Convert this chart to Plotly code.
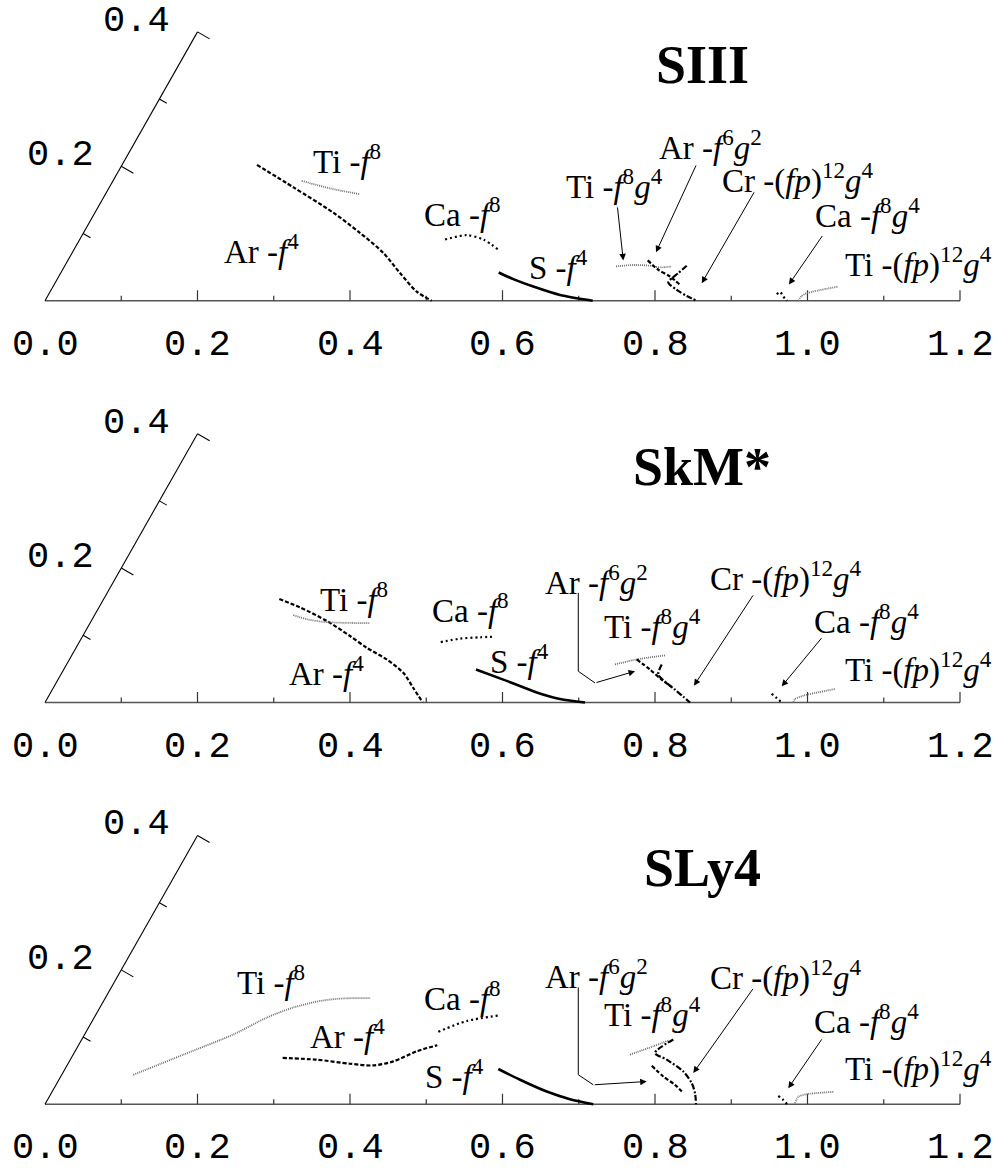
import plotly.graph_objects as go
import math

# ---------------- data (horizontal / vertical coordinates in axis units) ----------------
panels = ["SIII", "SkM*", "SLy4"]

# SIII
SIII_S_f4_x = [0.595, 0.6142, 0.6404, 0.6754, 0.7183]
SIII_S_f4_y = [0.0364, 0.0278, 0.0182, 0.0074, 0.0]
SIII_Ar_f4_x = [0.278, 0.326, 0.378, 0.413, 0.4437, 0.4656, 0.4875, 0.507]
SIII_Ar_f4_y = [0.175, 0.146, 0.1135, 0.0875, 0.0616, 0.0356, 0.0117, 0.0]
SIII_Ti_f8_x = [0.3367, 0.3738, 0.413]
SIII_Ti_f8_y = [0.1545, 0.1447, 0.1373]
SIII_Ca_f8_x = [0.5246, 0.553, 0.5748, 0.5958]
SIII_Ca_f8_y = [0.0788, 0.0844, 0.0788, 0.0649]
SIII_Ti_f8g4_x = [0.7489, 0.7716, 0.7934, 0.8066, 0.8219]
SIII_Ti_f8g4_y = [0.0442, 0.046, 0.0451, 0.0429, 0.0442]
SIII_Ar_f6g2_x = [0.7904, 0.8043, 0.8197, 0.8328]
SIII_Ar_f6g2_y = [0.052, 0.0399, 0.0312, 0.0204]
SIII_Cr_fp12g4_x = [0.8416, 0.8306, 0.8197, 0.8174, 0.8285, 0.8416, 0.8547]
SIII_Cr_fp12g4_y = [0.0451, 0.0356, 0.0269, 0.0234, 0.0139, 0.0061, 0.0]
SIII_Ca_f8g4_x = [0.9597, 0.964, 0.9683, 0.9735]
SIII_Ca_f8g4_y = [0.0083, 0.0113, 0.0052, 0.0]
SIII_Ti_fp12g4_x = [0.988, 0.9924, 0.999, 1.0404]
SIII_Ti_fp12g4_y = [0.0, 0.006, 0.0096, 0.0182]

# SkM*
SkM_Ar_f4_x = [0.3073, 0.3344, 0.3694, 0.4, 0.4219, 0.4481, 0.4699, 0.483, 0.4954]
SkM_Ar_f4_y = [0.1334, 0.1226, 0.1052, 0.0857, 0.0706, 0.0555, 0.0382, 0.0187, 0.0]
SkM_Ti_f8_x = [0.3256, 0.3432, 0.365, 0.3957, 0.4253]
SkM_Ti_f8_y = [0.1126, 0.1074, 0.1039, 0.1026, 0.1022]
SkM_Ca_f8_x = [0.519, 0.5443, 0.5705, 0.5902]
SkM_Ca_f8_y = [0.0779, 0.0823, 0.084, 0.0849]
SkM_S_f4_x = [0.5652, 0.6011, 0.6449, 0.6754, 0.7082]
SkM_S_f4_y = [0.0425, 0.0295, 0.013, 0.0044, 0.0]
SkM_Ti_f8g4_x = [0.7475, 0.776, 0.8131]
SkM_Ti_f8g4_y = [0.049, 0.0555, 0.0607]
SkM_Ar_f6g2_x = [0.776, 0.7934, 0.8088, 0.8219]
SkM_Ar_f6g2_y = [0.0555, 0.0425, 0.0295, 0.02]
SkM_Cr_fp12g4_x = [0.8088, 0.8043, 0.8131, 0.8262, 0.8371, 0.8459]
SkM_Cr_fp12g4_y = [0.049, 0.036, 0.0269, 0.0165, 0.0074, 0.0]
SkM_Ca_f8g4_x = [0.953, 0.9597, 0.9662]
SkM_Ca_f8g4_y = [0.0113, 0.0057, 0.0]
SkM_Ti_fp12g4_x = [0.9814, 0.9836, 0.9945, 1.036]
SkM_Ti_fp12g4_y = [0.0, 0.0044, 0.0087, 0.0174]

# SLy4
SLy_Ti_f8_x = [0.1158, 0.1814, 0.247, 0.2908, 0.3256, 0.3607, 0.3912, 0.4272]
SLy_Ti_f8_y = [0.038, 0.064, 0.09, 0.1117, 0.1247, 0.1332, 0.1364, 0.1368]
SLy_Ar_f4_x = [0.3117, 0.3563, 0.4, 0.4306, 0.4568, 0.4875, 0.5145]
SLy_Ar_f4_y = [0.0597, 0.0575, 0.0523, 0.0501, 0.0553, 0.0683, 0.0761]
SLy_Ca_f8_x = [0.5158, 0.553, 0.5967]
SLy_Ca_f8_y = [0.0935, 0.1073, 0.1147]
SLy_S_f4_x = [0.5945, 0.623, 0.658, 0.6885, 0.7191]
SLy_S_f4_y = [0.0455, 0.0316, 0.0164, 0.0065, 0.0]
SLy_Ti_f8g4_x = [0.7672, 0.7978, 0.8175]
SLy_Ti_f8g4_y = [0.064, 0.0748, 0.0822]
SLy_Ar_f6g2_x = [0.7957, 0.8109, 0.8262, 0.8371]
SLy_Ar_f6g2_y = [0.0497, 0.0358, 0.0251, 0.0143]
SLy_Cr_fp12g4_x = [0.824, 0.80, 0.8154, 0.8371, 0.8481, 0.8525, 0.8538]
SLy_Cr_fp12g4_y = [0.0835, 0.0662, 0.0575, 0.0423, 0.0273, 0.0143, 0.0]
SLy_Ca_f8g4_x = [0.9617, 0.9683, 0.9735]
SLy_Ca_f8g4_y = [0.0108, 0.0056, 0.0]
SLy_Ti_fp12g4_x = [0.9836, 0.988, 0.999, 1.0338]
SLy_Ti_fp12g4_y = [0.0013, 0.0099, 0.013, 0.016]

x_ticks = [0.1, 0.2, 0.3, 0.4, 0.5, 0.6, 0.7, 0.8, 0.9, 1.0, 1.1, 1.2]
x_tick_labels = ["0.0", "0.2", "0.4", "0.6", "0.8", "1.0", "1.2"]
x_tick_label_vals = [0.0, 0.2, 0.4, 0.6, 0.8, 1.0, 1.2]
s_ticks = [0.1, 0.2, 0.3, 0.4]
s_tick_labels = ["0.2", "0.4"]
s_tick_label_vals = [0.2, 0.4]

# ---------------- curve assembly ----------------
curves = [
    [("S", SIII_S_f4_x, SIII_S_f4_y), ("Ar", SIII_Ar_f4_x, SIII_Ar_f4_y),
     ("Ti", SIII_Ti_f8_x, SIII_Ti_f8_y), ("Ca", SIII_Ca_f8_x, SIII_Ca_f8_y),
     ("Ti", SIII_Ti_f8g4_x, SIII_Ti_f8g4_y), ("Ar", SIII_Ar_f6g2_x, SIII_Ar_f6g2_y),
     ("Cr", SIII_Cr_fp12g4_x, SIII_Cr_fp12g4_y), ("Ca", SIII_Ca_f8g4_x, SIII_Ca_f8g4_y),
     ("Ti", SIII_Ti_fp12g4_x, SIII_Ti_fp12g4_y)],
    [("S", SkM_S_f4_x, SkM_S_f4_y), ("Ar", SkM_Ar_f4_x, SkM_Ar_f4_y),
     ("Ti", SkM_Ti_f8_x, SkM_Ti_f8_y), ("Ca", SkM_Ca_f8_x, SkM_Ca_f8_y),
     ("Ti", SkM_Ti_f8g4_x, SkM_Ti_f8g4_y), ("Ar", SkM_Ar_f6g2_x, SkM_Ar_f6g2_y),
     ("Cr", SkM_Cr_fp12g4_x, SkM_Cr_fp12g4_y), ("Ca", SkM_Ca_f8g4_x, SkM_Ca_f8g4_y),
     ("Ti", SkM_Ti_fp12g4_x, SkM_Ti_fp12g4_y)],
    [("S", SLy_S_f4_x, SLy_S_f4_y), ("Ar", SLy_Ar_f4_x, SLy_Ar_f4_y),
     ("Ti", SLy_Ti_f8_x, SLy_Ti_f8_y), ("Ca", SLy_Ca_f8_x, SLy_Ca_f8_y),
     ("Ti", SLy_Ti_f8g4_x, SLy_Ti_f8g4_y), ("Ar", SLy_Ar_f6g2_x, SLy_Ar_f6g2_y),
     ("Cr", SLy_Cr_fp12g4_x, SLy_Cr_fp12g4_y), ("Ca", SLy_Ca_f8g4_x, SLy_Ca_f8g4_y),
     ("Ti", SLy_Ti_fp12g4_x, SLy_Ti_fp12g4_y)],
]

styles = {
    "S": dict(color="black", width=2.6, dash="solid"),
    "Ar": dict(color="black", width=2.2, dash="4px,2px"),
    "Ca": dict(color="black", width=2.2, dash="2px,3px"),
    "Ti": dict(color="#707070", width=1.8, dash="1px,1px"),
    "Cr": dict(color="black", width=2.2, dash="6px,2px,2px,2px"),
}

T_Ti_f8 = "Ti -<i>f</i><sup>8</sup>"
T_Ar_f4 = "Ar -<i>f</i><sup>4</sup>"
T_Ca_f8 = "Ca -<i>f</i><sup>8</sup>"
T_S_f4 = "S -<i>f</i><sup>4</sup>"
T_Ti_f8g4 = "Ti -<i>f</i><sup>8</sup><i>g</i><sup>4</sup>"
T_Ar_f6g2 = "Ar -<i>f</i><sup>6</sup><i>g</i><sup>2</sup>"
T_Cr = "Cr -(<i>fp</i>)<sup>12</sup><i>g</i><sup>4</sup>"
T_Ca_f8g4 = "Ca -<i>f</i><sup>8</sup><i>g</i><sup>4</sup>"
T_Ti_fp = "Ti -(<i>fp</i>)<sup>12</sup><i>g</i><sup>4</sup>"

labels = [
    [(T_Ti_f8, 0.349, 0.183), (T_Ar_f4, 0.232, 0.066), (T_Ca_f8, 0.494, 0.114),
     (T_S_f4, 0.6315, 0.046), (T_Ti_f8g4, 0.680, 0.150), (T_Ar_f6g2, 0.802, 0.201),
     (T_Cr, 0.885, 0.157), (T_Ca_f8g4, 1.0076, 0.1126), (T_Ti_fp, 1.047, 0.0496)],
    [(T_Ti_f8, 0.3584, 0.136), (T_Ar_f4, 0.317, 0.0403), (T_Ca_f8, 0.505, 0.1217),
     (T_S_f4, 0.5814, 0.0555), (T_Ar_f6g2, 0.6535, 0.158), (T_Ti_f8g4, 0.730, 0.101),
     (T_Cr, 0.87, 0.162), (T_Ca_f8g4, 1.0055, 0.1074), (T_Ti_fp, 1.047, 0.0457)],
    [(T_Ti_f8, 0.2492, 0.16), (T_Ar_f4, 0.3453, 0.09), (T_Ca_f8, 0.494, 0.1397),
     (T_S_f4, 0.4962, 0.0394), (T_Ar_f6g2, 0.6535, 0.168), (T_Ti_f8g4, 0.730, 0.1186),
     (T_Cr, 0.87, 0.1657), (T_Ca_f8g4, 1.0055, 0.1095), (T_Ti_fp, 1.047, 0.0488)],
]

# arrows: (tail_x, tail_y, head_x, head_y)
arrows = [
    [(0.7506, 0.1221, 0.7584, 0.0519), (0.8547, 0.1762, 0.8013, 0.0623),
     (0.9311, 0.1416, 0.8613, 0.0226), (1.0207, 0.0853, 0.9757, 0.021)],
    [(0.9298, 0.1399, 0.8511, 0.0217), (1.02, 0.0849, 0.9662, 0.0208)],
    [(0.9298, 0.1506, 0.8502, 0.0403), (1.02, 0.0857, 0.9748, 0.0208)],
]
# bent leader lines (polyline then arrow)
leaders = [
    None,
    ([0.6994, 0.6994, 0.7213], [0.1413, 0.0403, 0.0252], (0.7738, 0.0403)),
    ([0.6994, 0.6994, 0.7191], [0.1506, 0.0381, 0.0251], (0.7891, 0.0294)),
]

# ---------------- geometry ----------------
W, H = 1007, 1171
X0PX = 45.0      # pixel of x=0
XS = 762.5       # px per unit horizontally
YS = 776.0       # px per unit vertically
BASE = [300.7, 702.5, 1104.3]   # baseline pixel per panel
TOPPAD, BOTPAD = 300.0, 66.0
C60, S60 = math.cos(math.radians(60)), math.sin(math.radians(60))

fig = go.Figure()
layout = dict(width=W, height=H, margin=dict(l=0, r=0, t=0, b=0),
              paper_bgcolor="white", plot_bgcolor="white", showlegend=False,
              autosize=False)
annotations = []
serif = "Liberation Serif, Times New Roman, serif"
mono = "Liberation Mono, Courier New, monospace"

for k, name in enumerate(panels):
    sfx = "" if k == 0 else str(k + 1)
    xa, ya = "x" + sfx, "y" + sfx
    B = BASE[k]
    layout["xaxis" + sfx] = dict(domain=[0, 1], range=[-X0PX / XS, (W - X0PX) / XS],
                                 visible=False, anchor=ya, fixedrange=True)
    layout["yaxis" + sfx] = dict(domain=[1 - (B + BOTPAD) / H, 1 - (B - TOPPAD) / H],
                                 range=[-BOTPAD / YS, TOPPAD / YS],
                                 visible=False, anchor=xa, fixedrange=True)

    # horizontal axis
    fig.add_trace(go.Scatter(x=[0, 1.2], y=[0, 0], mode="lines", xaxis=xa, yaxis=ya,
                             line=dict(color="#555", width=1.6), hoverinfo="skip"))
    tx, ty = [], []
    for t in x_ticks:
        major = abs(round(t * 10) % 2) == 0
        L = 10.5 if major else 5.0
        tx += [t, t, None]
        ty += [0, L / YS, None]
    fig.add_trace(go.Scatter(x=tx, y=ty, mode="lines", xaxis=xa, yaxis=ya,
                             line=dict(color="#333", width=1.2), hoverinfo="skip"))
    # slanted axis
    smax = max(s_ticks)
    fig.add_trace(go.Scatter(x=[0, smax * C60], y=[0, smax * S60], mode="lines",
                             xaxis=xa, yaxis=ya, line=dict(color="black", width=1.1),
                             hoverinfo="skip"))
    sx, sy = [], []
    for t in s_ticks:
        major = abs(round(t * 10) % 2) == 0
        L = 14.0 if major else 8.5
        bx, by = t * C60, t * S60
        sx += [bx, bx + L * S60 / XS, None]
        sy += [by, by - L * C60 / YS, None]
    fig.add_trace(go.Scatter(x=sx, y=sy, mode="lines", xaxis=xa, yaxis=ya,
                             line=dict(color="black", width=1.1), hoverinfo="skip"))

    # tick labels
    for lab, v in zip(x_tick_labels, x_tick_label_vals):
        annotations.append(dict(x=v, y=-44.0 / YS, xref=xa, yref=ya, text=lab,
                                showarrow=False, xanchor="center", yanchor="middle",
                                font=dict(family=mono, size=37, color="black")))
    for lab, v in zip(s_tick_labels, s_tick_label_vals):
        annotations.append(dict(x=v * C60 - 61.0 / XS, y=v * S60 + 11.0 / YS,
                                xref=xa, yref=ya, text=lab, showarrow=False,
                                xanchor="center", yanchor="middle",
                                font=dict(family=mono, size=37, color="black")))

    # curves
    for nuc, cx, cy in curves[k]:
        st = styles[nuc]
        fig.add_trace(go.Scatter(x=cx, y=cy, mode="lines", xaxis=xa, yaxis=ya,
                                 line=dict(color=st["color"], width=st["width"],
                                           dash=st["dash"], shape="spline", smoothing=0.8),
                                 hoverinfo="skip"))

    # labels
    for txt, lx, ly in labels[k]:
        annotations.append(dict(x=lx, y=ly, xref=xa, yref=ya, text=txt, showarrow=False,
                                xanchor="left", yanchor="middle",
                                font=dict(family=serif, size=33, color="black")))
    # arrows
    for (tx0, ty0, hx, hy) in arrows[k]:
        annotations.append(dict(x=hx, y=hy, ax=tx0, ay=ty0, xref=xa, yref=ya,
                                axref=xa, ayref=ya, text="", showarrow=True,
                                arrowhead=2, arrowsize=1.3, arrowwidth=1,
                                arrowcolor="black"))
    if leaders[k] is not None:
        lx_, ly_, head = leaders[k]
        fig.add_trace(go.Scatter(x=lx_, y=ly_, mode="lines", xaxis=xa, yaxis=ya,
                                 line=dict(color="black", width=1), hoverinfo="skip"))
        annotations.append(dict(x=head[0], y=head[1], ax=lx_[-1], ay=ly_[-1],
                                xref=xa, yref=ya, axref=xa, ayref=ya, text="",
                                showarrow=True, arrowhead=2, arrowsize=1.3,
                                arrowwidth=1, arrowcolor="black"))
    # panel title
    annotations.append(dict(x=0.862, y=0.304, xref=xa, yref=ya, text="<b>%s</b>" % name,
                            showarrow=False, xanchor="center", yanchor="middle",
                            font=dict(family=serif, size=54, color="black")))

layout["annotations"] = annotations
fig.update_layout(**layout)

fig.write_html("out.html", config={"displayModeBar": False},
               post_script="document.body.style.margin='0';document.body.style.overflow='hidden';")
